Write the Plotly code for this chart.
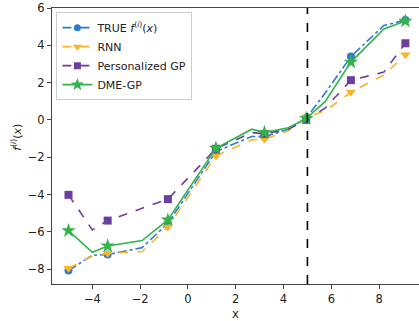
import plotly.graph_objects as go

# data
x_vals = [-5, -4, -3.36, -1.92, -0.84, 1.17, 2.67, 3.2, 4.2, 4.95, 5.74, 6.82, 8.2, 9.1]
marked = [0, 2, 4, 5, 7, 9, 11, 13]
true_f = [-8.08, -7.26, -7.22, -6.85, -5.55, -1.7, -0.89, -0.9, -0.5, 0.1, 1.43, 3.4, 5.06, 5.36]
rnn = [-7.96, -7.3, -7.15, -7.06, -5.75, -1.93, -1.07, -1.02, -0.6, 0.15, 0.48, 1.49, 2.41, 3.49]
pgp = [-4.02, -5.9, -5.4, -4.74, -4.25, -1.55, -0.68, -0.75, -0.5, 0.0, 0.63, 2.13, 2.56, 4.11]
dme = [-5.94, -7.1, -6.76, -6.47, -5.36, -1.52, -0.5, -0.68, -0.42, 0.08, 0.98, 3.1, 4.88, 5.3]
split_x = 5
x_ticks = [-4, -2, 0, 2, 4, 6, 8]
y_ticks = [-8, -6, -4, -2, 0, 2, 4, 6]

series = [
    ("TRUE <i>f</i><sup>(<i>i</i>)</sup>(<i>x</i>)", true_f, "#2f7ccc", "dashdot", "circle", 8),
    ("RNN", rnn, "#fbb425", "dash", "triangle-down", 9),
    ("Personalized GP", pgp, "#6b3fa0", "dash", "square", 8),
    ("DME-GP", dme, "#33b34a", "solid", "star", 11),
]

fig = go.Figure()
for name, ys, color, dash, sym, ms in series:
    sizes = [ms if i in marked else 0 for i in range(len(x_vals))]
    fig.add_trace(go.Scatter(
        x=x_vals, y=ys, mode="lines+markers", showlegend=False,
        line=dict(color=color, width=1.6, dash=dash),
        marker=dict(symbol=sym, size=sizes, color=color, opacity=1, line=dict(width=0)),
    ))
    fig.add_trace(go.Scatter(
        x=[None], y=[None], mode="lines+markers", name=name,
        line=dict(color=color, width=1.6, dash=dash),
        marker=dict(symbol=sym, size=ms - 1, color=color, opacity=1),
    ))

fig.add_vline(x=split_x, line=dict(color="black", width=1.6, dash="dash"))

axis_common = dict(
    showline=True, linecolor="#444", linewidth=1, mirror=True, automargin=False,
    ticks="outside", ticklen=4, tickcolor="#444", showgrid=False, zeroline=False,
    tickfont=dict(size=11.5, color="#222"),
)
fig.update_xaxes(range=[-5.69, 9.67], tickvals=x_ticks, ticktext=[str(t).replace("-", "\u2212") for t in x_ticks],
                 **axis_common)
fig.update_yaxes(range=[-8.8, 6.0], tickvals=y_ticks, ticktext=[str(t).replace("-", "\u2212") for t in y_ticks],
                 **axis_common)

fig.add_annotation(text="x", xref="paper", yref="paper", x=0.5, y=-0.075, yanchor="top",
                   showarrow=False, font=dict(size=11.5, color="#222"))
fig.add_annotation(text="<i>f</i><sup>(<i>i</i>)</sup>(<i>x</i>)", xref="paper", yref="paper",
                   x=-0.095, y=0.53, xanchor="center", yanchor="middle", textangle=-90,
                   showarrow=False, font=dict(size=11, color="#222"))

fig.update_layout(
    width=419, height=321,
    margin=dict(l=52, r=0, t=8, b=37),
    paper_bgcolor="white", plot_bgcolor="white",
    font=dict(family="DejaVu Sans", color="#222"),
    legend=dict(x=0.012, y=0.985, xanchor="left", yanchor="top",
                bgcolor="rgba(255,255,255,0.85)", bordercolor="#ccc", borderwidth=1,
                font=dict(size=11), tracegroupgap=0, itemwidth=30, itemsizing="trace"),
)

fig.write_html("out.html", config={"displayModeBar": False},
               post_script="document.body.style.margin='0';")
